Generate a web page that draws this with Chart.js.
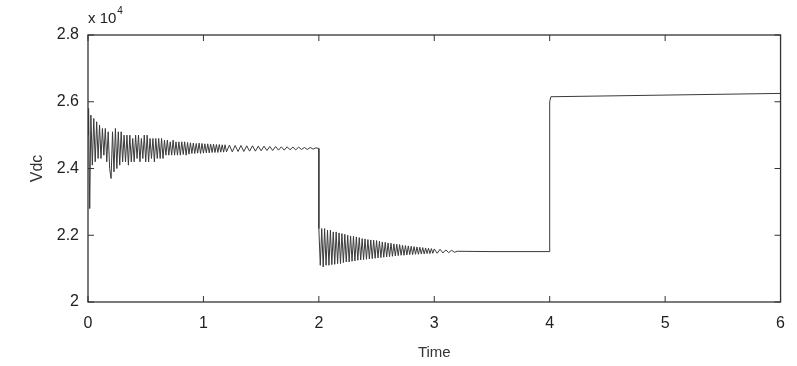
<!DOCTYPE html>
<html>
<head>
<meta charset="utf-8">
<script src="https://cdn.jsdelivr.net/npm/chart.js@4/dist/chart.umd.min.js"></script>
<style>
  html, body { margin: 0; padding: 0; background: #fff; }
  #wrap { width: 797px; height: 366px; }
</style>
</head>
<body>
<div id="wrap"><canvas id="myChart"></canvas></div>
<script>
// time axis (s) and Vdc (in units of 10^4)
const time = [
  0, 0.005, 0.015, 0.025, 0.0375, 0.05, 0.0625, 0.075, 0.0875,
  0.1, 0.1125, 0.125, 0.1375, 0.15, 0.1625, 0.175, 0.1875,
  0.2, 0.2125, 0.225, 0.2375, 0.25, 0.2625, 0.275, 0.2875,
  0.3, 0.3125, 0.325, 0.3375, 0.35, 0.3625, 0.375, 0.3875,
  0.4, 0.4125, 0.425, 0.4375, 0.45, 0.4625, 0.475, 0.4875,
  0.5, 0.5125, 0.525, 0.5375, 0.55, 0.5625, 0.575, 0.5875,
  0.6, 0.6125, 0.625, 0.6375, 0.65, 0.6625, 0.675, 0.6875,
  0.7, 0.7125, 0.725, 0.7375, 0.75, 0.7625, 0.775, 0.7875,
  0.8, 0.8125, 0.825, 0.8375, 0.85, 0.8625, 0.875, 0.8875,
  0.9, 0.9125, 0.925, 0.9375, 0.95, 0.9625, 0.975, 0.9875,
  1.0, 1.0125, 1.025, 1.0375, 1.05, 1.0625, 1.075, 1.0875,
  1.1, 1.1125, 1.125, 1.1375, 1.15, 1.1625, 1.175, 1.1875,
  1.2, 1.225, 1.25, 1.275, 1.3, 1.325, 1.35, 1.375,
  1.4, 1.425, 1.45, 1.475, 1.5, 1.525, 1.55, 1.575,
  1.6, 1.625, 1.65, 1.675, 1.7, 1.725, 1.75, 1.775,
  1.8, 1.825, 1.85, 1.875, 1.9, 1.925, 1.95, 1.975,
  2.0, 2.0,
  2.0125, 2.025, 2.0375, 2.05, 2.0625, 2.075, 2.0875,
  2.1, 2.1125, 2.125, 2.1375, 2.15, 2.1625, 2.175, 2.1875,
  2.2, 2.2125, 2.225, 2.2375, 2.25, 2.2625, 2.275, 2.2875,
  2.3, 2.3125, 2.325, 2.3375, 2.35, 2.3625, 2.375, 2.3875,
  2.4, 2.4125, 2.425, 2.4375, 2.45, 2.4625, 2.475, 2.4875,
  2.5, 2.5125, 2.525, 2.5375, 2.55, 2.5625, 2.575, 2.5875,
  2.6, 2.6125, 2.625, 2.6375, 2.65, 2.6625, 2.675, 2.6875,
  2.7, 2.7125, 2.725, 2.7375, 2.75, 2.7625, 2.775, 2.7875,
  2.8, 2.8125, 2.825, 2.8375, 2.85, 2.8625, 2.875, 2.8875,
  2.9, 2.9125, 2.925, 2.9375, 2.95, 2.9625, 2.975, 2.9875,
  3.0, 3.025, 3.05, 3.075, 3.1, 3.125, 3.15, 3.175, 3.2, 3.5, 4.0,
  4.0, 4.01, 6.0
];
const vdc = [
  2.50, 2.58, 2.28, 2.56, 2.41, 2.55, 2.42, 2.54, 2.43,
  2.53, 2.43, 2.52, 2.44, 2.52, 2.42, 2.51, 2.40,
  2.37, 2.51, 2.39, 2.52, 2.40, 2.51, 2.41, 2.51,
  2.42, 2.50, 2.42, 2.50, 2.41, 2.50, 2.42, 2.49,
  2.42, 2.50, 2.43, 2.50, 2.42, 2.49, 2.43, 2.50,
  2.42, 2.50, 2.42, 2.49, 2.43, 2.49, 2.42, 2.49,
  2.43, 2.49, 2.43, 2.49, 2.43, 2.485, 2.44, 2.485,
  2.44, 2.48, 2.44, 2.485, 2.44, 2.48, 2.44, 2.48,
  2.44, 2.48, 2.442, 2.48, 2.44, 2.478, 2.443, 2.477,
  2.445, 2.476, 2.445, 2.475, 2.446, 2.476, 2.445, 2.475,
  2.446, 2.474, 2.447, 2.474, 2.447, 2.473, 2.448, 2.473,
  2.448, 2.472, 2.448, 2.472, 2.449, 2.471, 2.449, 2.471,
  2.45, 2.47, 2.45, 2.469, 2.451, 2.469, 2.451, 2.468,
  2.452, 2.468, 2.452, 2.467, 2.453, 2.467, 2.454, 2.466,
  2.454, 2.466, 2.455, 2.465, 2.455, 2.465, 2.456, 2.464,
  2.456, 2.464, 2.457, 2.463, 2.457, 2.463, 2.458, 2.462,
  2.46, 2.22,
  2.11, 2.22, 2.105, 2.22, 2.11, 2.215, 2.11,
  2.215, 2.112, 2.21, 2.113, 2.21, 2.115, 2.207, 2.115,
  2.205, 2.118, 2.203, 2.12, 2.20, 2.12, 2.198, 2.122,
  2.197, 2.123, 2.195, 2.125, 2.193, 2.126, 2.19, 2.127,
  2.189, 2.128, 2.187, 2.129, 2.186, 2.13, 2.185, 2.131,
  2.184, 2.132, 2.182, 2.133, 2.18, 2.134, 2.179, 2.135,
  2.177, 2.136, 2.176, 2.137, 2.174, 2.138, 2.173, 2.139,
  2.172, 2.14, 2.17, 2.14, 2.169, 2.141, 2.168, 2.142,
  2.167, 2.142, 2.166, 2.143, 2.165, 2.143, 2.164, 2.144,
  2.163, 2.144, 2.162, 2.145, 2.161, 2.145, 2.16, 2.146,
  2.159, 2.146, 2.158, 2.147, 2.156, 2.148, 2.155, 2.149, 2.152, 2.151, 2.151,
  2.60, 2.615, 2.625
];
const xTicks = [0, 1, 2, 3, 4, 5, 6];
const yTicks = [2, 2.2, 2.4, 2.6, 2.8];

const points = time.map((t, i) => ({ x: t, y: vdc[i] }));

// matlab style box with inward ticks + exponent label
const boxPlugin = {
  id: 'box',
  afterDraw(chart) {
    const { ctx, chartArea: a, scales } = chart;
    ctx.save();
    ctx.strokeStyle = '#333';
    ctx.lineWidth = 1.3;
    ctx.strokeRect(a.left, a.top, a.right - a.left, a.bottom - a.top);
    ctx.lineWidth = 1;
    ctx.beginPath();
    xTicks.forEach(v => {
      const px = scales.x.getPixelForValue(v);
      ctx.moveTo(px, a.bottom); ctx.lineTo(px, a.bottom - 6);
      ctx.moveTo(px, a.top); ctx.lineTo(px, a.top + 6);
    });
    yTicks.forEach(v => {
      const py = scales.y.getPixelForValue(v);
      ctx.moveTo(a.left, py); ctx.lineTo(a.left + 6, py);
      ctx.moveTo(a.right, py); ctx.lineTo(a.right - 6, py);
    });
    ctx.stroke();
    ctx.fillStyle = '#222';
    ctx.textBaseline = 'alphabetic';
    ctx.font = '15px "Liberation Sans", Arial, sans-serif';
    ctx.fillText('x 10', a.left, a.top - 12);
    const w = ctx.measureText('x 10').width;
    ctx.font = '10px "Liberation Sans", Arial, sans-serif';
    ctx.fillText('4', a.left + w + 1, a.top - 21);
    ctx.restore();
  }
};

const ctx = document.getElementById('myChart').getContext('2d');
const myChart = new Chart(ctx, {
  type: 'line',
  data: {
    datasets: [{
      label: 'Vdc',
      data: points,
      borderColor: '#3a3a3a',
      borderWidth: 1,
      pointRadius: 0,
      tension: 0,
      fill: false
    }]
  },
  options: {
    responsive: true,
    maintainAspectRatio: false,
    animation: false,
    layout: { padding: { top: 35, right: 12, left: 0, bottom: 0 } },
    plugins: { legend: { display: false }, tooltip: { enabled: false } },
    scales: {
      x: {
        type: 'linear',
        min: 0, max: 6,
        afterFit: s => { s.height = 64; },
        afterBuildTicks: s => { s.ticks = xTicks.map(v => ({ value: v })); },
        grid: { display: false, drawTicks: false },
        border: { display: false },
        ticks: { padding: 12, color: '#222', font: { size: 16, family: '"Liberation Sans", Arial, sans-serif' } },
        title: { display: true, text: 'Time', color: '#333', padding: { top: 0, bottom: 4 },
                 font: { size: 15, family: '"Liberation Sans", Arial, sans-serif' } }
      },
      y: {
        min: 2, max: 2.8,
        afterFit: s => { s.width = 88; },
        afterBuildTicks: s => { s.ticks = yTicks.map(v => ({ value: v })); },
        grid: { display: false, drawTicks: false },
        border: { display: false },
        ticks: { padding: 9, color: '#222', callback: v => (v === 2 ? '2' : v.toFixed(1)),
                 font: { size: 16, family: '"Liberation Sans", Arial, sans-serif' } },
        title: { display: true, text: 'Vdc', color: '#333', padding: { top: 28, bottom: 0 },
                 font: { size: 16, family: '"Liberation Sans", Arial, sans-serif' } }
      }
    }
  },
  plugins: [boxPlugin]
});
</script>
</body>
</html>
